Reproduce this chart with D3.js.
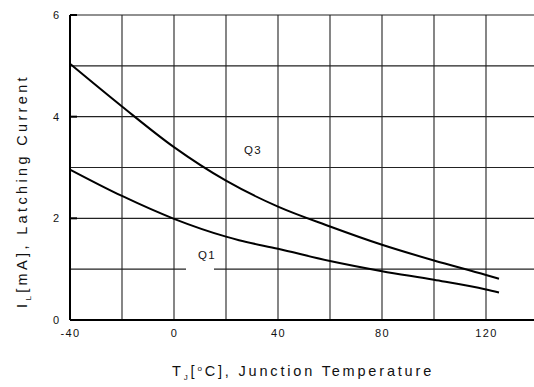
<!DOCTYPE html>
<html>
<head>
<meta charset="utf-8">
<script src="https://cdn.jsdelivr.net/npm/d3@7/dist/d3.min.js"></script>
<style>
  html, body { margin: 0; padding: 0; background: #fff; }
  svg { display: block; }
  text { font-family: "Liberation Sans", Arial, sans-serif; fill: #111; }
</style>
</head>
<body>
<svg id="chart" width="534" height="387"></svg>
<script>
// Latching current vs junction temperature
const tempQ1 = [-40, -20, 0, 20, 25, 40, 60, 80, 100, 120, 125];
const currentQ1 = [2.96, 2.44, 1.99, 1.64, 1.57, 1.40, 1.16, 0.96, 0.79, 0.60, 0.54];
const tempQ3 = [-40, -20, 0, 20, 40, 60, 80, 100, 120, 125];
const currentQ3 = [5.04, 4.20, 3.40, 2.74, 2.23, 1.84, 1.48, 1.17, 0.885, 0.81];
const xTicks = [-40, 0, 40, 80, 120];
const xGrid = [-20, 0, 20, 40, 60, 80, 100, 120, 140];
const yTicks = [0, 2, 4, 6];
const yGrid = [1, 2, 3, 4, 5, 6];

const svg = d3.select("#chart");
const x = d3.scaleLinear().domain([-40, 140]).range([70, 538]);
const y = d3.scaleLinear().domain([0, 6]).range([320, 15]);

// plain hyphen for negative numbers
const fmt = d => String(d);

// spread a text element's letters so it spans the given width
function spreadTo(sel, width) {
  const node = sel.node();
  const w = node.getComputedTextLength();
  const n = node.textContent.length;
  sel.style("letter-spacing", ((width - w) / n) + "px");
}

// grid
const grid = svg.append("g").attr("stroke", "#222").attr("stroke-width", 1.1);
xGrid.forEach(v => grid.append("line")
  .attr("x1", x(v)).attr("x2", x(v)).attr("y1", y(0)).attr("y2", y(6)));
yGrid.forEach(v => {
  if (v === 1) {
    // line is broken around the Q1 label
    grid.append("line").attr("x1", x(-40)).attr("x2", 186).attr("y1", y(v)).attr("y2", y(v));
    grid.append("line").attr("x1", 214).attr("x2", x(140)).attr("y1", y(v)).attr("y2", y(v));
  } else {
    grid.append("line").attr("x1", x(-40)).attr("x2", x(140)).attr("y1", y(v)).attr("y2", y(v));
  }
});

// axes frame
svg.append("line").attr("x1", x(-40)).attr("x2", x(-40)).attr("y1", y(0)).attr("y2", y(6))
  .attr("stroke", "#000").attr("stroke-width", 2);
svg.append("line").attr("x1", x(-40)).attr("x2", x(140)).attr("y1", y(0)).attr("y2", y(0))
  .attr("stroke", "#000").attr("stroke-width", 2);

// axis tick labels via d3 axes
const xAxis = d3.axisBottom(x).tickValues(xTicks).tickSize(0).tickPadding(9).tickFormat(fmt);
const gx = svg.append("g").attr("transform", `translate(0,${y(0)})`).call(xAxis);
gx.select(".domain").remove();
gx.selectAll("text").style("font-size", "11px").style("letter-spacing", "1.4px")
  .style("font-family", "Liberation Sans, Arial, sans-serif").attr("fill", "#111");

const yAxis = d3.axisLeft(y).tickValues(yTicks).tickSize(0).tickPadding(11).tickFormat(fmt);
const gy = svg.append("g").attr("transform", `translate(${x(-40)},0)`).call(yAxis);
gy.select(".domain").remove();
gy.selectAll("text").style("font-size", "11px")
  .style("font-family", "Liberation Sans, Arial, sans-serif").attr("fill", "#111");

// inward tick marks
yTicks.forEach(v => svg.append("line").attr("x1", x(-40)).attr("x2", x(-40) + 7)
  .attr("y1", y(v)).attr("y2", y(v)).attr("stroke", "#000").attr("stroke-width", 2));

// curves
const line = d3.line().x(d => x(d[0])).y(d => y(d[1])).curve(d3.curveMonotoneX);
svg.append("path").datum(tempQ3.map((t, i) => [t, currentQ3[i]]))
  .attr("d", line).attr("fill", "none").attr("stroke", "#000").attr("stroke-width", 2);
svg.append("path").datum(tempQ1.map((t, i) => [t, currentQ1[i]]))
  .attr("d", line).attr("fill", "none").attr("stroke", "#000").attr("stroke-width", 2);

// curve labels
svg.append("text").attr("x", 244).attr("y", 154)
  .style("font-size", "11.5px").style("letter-spacing", "1.2px").text("Q3");
svg.append("text").attr("x", 198).attr("y", 259)
  .style("font-size", "11.5px").style("letter-spacing", "1.2px").text("Q1");

// axis titles
const xt = svg.append("text").attr("x", 172).attr("y", 376)
  .style("font-size", "14.5px");
xt.append("tspan").text("T");
xt.append("tspan").attr("dy", 4).style("font-size", "8px").text("J");
xt.append("tspan").attr("dy", -4).text("[");
xt.append("tspan").attr("dy", -5).style("font-size", "8px").text("o");
xt.append("tspan").attr("dy", 5).text("C], Junction Temperature");
spreadTo(xt, 262);

const yt = svg.append("text").attr("transform", "translate(27,308) rotate(-90)")
  .style("font-size", "14.5px");
yt.append("tspan").text("I");
yt.append("tspan").attr("dy", 4).style("font-size", "8px").text("L");
yt.append("tspan").attr("dy", -4).text("[mA], Latching Current");
spreadTo(yt, 234);
</script>
</body>
</html>
